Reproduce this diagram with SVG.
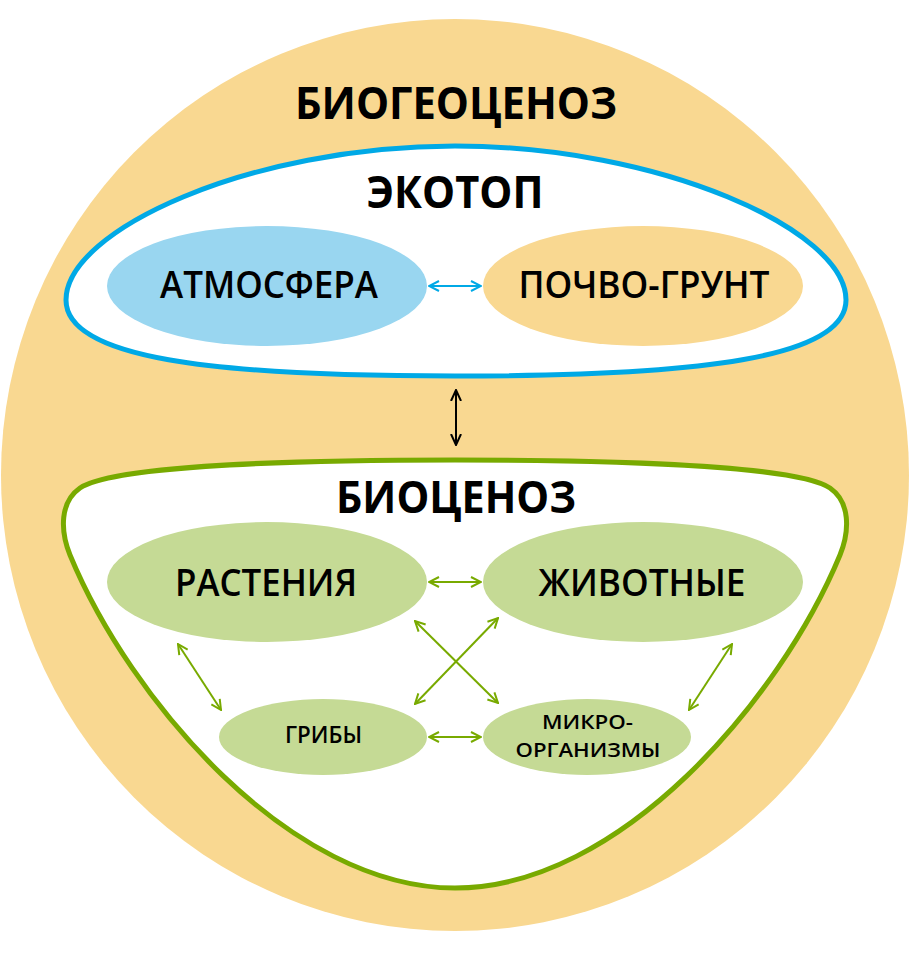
<svg xmlns="http://www.w3.org/2000/svg" width="910" height="975" viewBox="0 0 910 975">
<defs>
<style>
.t{font-family:"Open Sans","Noto Sans","Liberation Sans",sans-serif;fill:#000;text-anchor:middle}
.h{font-size:45px;font-weight:700}
.m{font-size:38px;font-weight:600}
.s{font-size:23px;font-weight:600}
.s2{font-size:20px;font-weight:600}
.ab{stroke:#00A9E6;stroke-width:2;fill:none}
.ak{stroke:#000;stroke-width:2;fill:none}
.ag{stroke:#78AA00;stroke-width:2;fill:none}
</style>
<marker id="mb" viewBox="0 0 12 12" refX="11" refY="6" markerWidth="12" markerHeight="12" markerUnits="userSpaceOnUse" orient="auto-start-reverse"><path d="M1,1 L11,6 L1,11" fill="none" stroke="#00A9E6" stroke-width="2"/></marker>
<marker id="mk" viewBox="0 0 12 14" refX="11" refY="7" markerWidth="12" markerHeight="14" markerUnits="userSpaceOnUse" orient="auto-start-reverse"><path d="M0,2 L11,7 L0,12" fill="none" stroke="#000" stroke-width="2"/></marker>
<marker id="mg" viewBox="0 0 12 12" refX="11" refY="6" markerWidth="12" markerHeight="12" markerUnits="userSpaceOnUse" orient="auto-start-reverse"><path d="M1,1 L11,6 L1,11" fill="none" stroke="#78AA00" stroke-width="2"/></marker>
</defs>
<g id="biogeocenosis">
<ellipse cx="455" cy="475" rx="454" ry="456" fill="#F9D891"/>
<text class="t h" x="456" y="119" textLength="322" lengthAdjust="spacingAndGlyphs">БИОГЕОЦЕНОЗ</text>
</g>
<g id="ecotope">
<path d="M455,146 C660,146 846,230 846,300 C846,358 700,376 455,376 C210,376 66,358 66,300 C66,230 250,146 455,146 Z" fill="#fff" stroke="#00A9E6" stroke-width="5"/>
<text class="t h" x="455" y="208" textLength="177" lengthAdjust="spacingAndGlyphs">ЭКОТОП</text>
</g>
<g id="atmosphere">
<ellipse cx="267" cy="286" rx="160" ry="60" fill="#99D6F0"/>
<text class="t m" x="269" y="298" textLength="218" lengthAdjust="spacingAndGlyphs">АТМОСФЕРА</text>
</g>
<g id="soil">
<ellipse cx="643" cy="286" rx="160" ry="60" fill="#F9D891"/>
<text class="t m" x="644" y="298" textLength="251" lengthAdjust="spacingAndGlyphs">ПОЧВО-ГРУНТ</text>
</g>
<g id="biocenosis">
<path d="M455,460 C650,460 800,468 830,488 C850,502 850,530 840,555 C780,700 620,888 455,888 C290,888 130,700 70,555 C60,530 60,502 80,488 C110,468 260,460 455,460 Z" fill="#fff" stroke="#78AA00" stroke-width="5"/>
<text class="t h" x="456" y="513" textLength="240" lengthAdjust="spacingAndGlyphs">БИОЦЕНОЗ</text>
</g>
<g id="plants">
<ellipse cx="267" cy="582" rx="160" ry="60" fill="#C5DA95"/>
<text class="t m" x="266" y="596" textLength="182" lengthAdjust="spacingAndGlyphs">РАСТЕНИЯ</text>
</g>
<g id="animals">
<ellipse cx="643" cy="582" rx="160" ry="60" fill="#C5DA95"/>
<text class="t m" x="642" y="596" textLength="207" lengthAdjust="spacingAndGlyphs">ЖИВОТНЫЕ</text>
</g>
<g id="fungi">
<ellipse cx="323" cy="737" rx="104" ry="38" fill="#C5DA95"/>
<text class="t s" x="323.5" y="743" textLength="77" lengthAdjust="spacingAndGlyphs">ГРИБЫ</text>
</g>
<g id="microorganisms">
<ellipse cx="587" cy="737" rx="104" ry="38" fill="#C5DA95"/>
<text class="t s2" x="587.5" y="729" textLength="91" lengthAdjust="spacingAndGlyphs">МИКРО-</text>
<text class="t s2" x="588" y="757" textLength="145" lengthAdjust="spacingAndGlyphs">ОРГАНИЗМЫ</text>
</g>
<g id="connectors">
<line class="ab" x1="429" y1="286" x2="481" y2="286" marker-start="url(#mb)" marker-end="url(#mb)"/>
<line class="ak" x1="456" y1="390" x2="456" y2="445" marker-start="url(#mk)" marker-end="url(#mk)"/>
<line class="ag" x1="429" y1="582" x2="481" y2="582" marker-start="url(#mg)" marker-end="url(#mg)"/>
<line class="ag" x1="429" y1="737" x2="481" y2="737" marker-start="url(#mg)" marker-end="url(#mg)"/>
<line class="ag" x1="415" y1="621" x2="498" y2="703" marker-start="url(#mg)" marker-end="url(#mg)"/>
<line class="ag" x1="498" y1="618" x2="415" y2="704" marker-start="url(#mg)" marker-end="url(#mg)"/>
<line class="ag" x1="178" y1="644" x2="221" y2="710" marker-start="url(#mg)" marker-end="url(#mg)"/>
<line class="ag" x1="732" y1="644" x2="689" y2="710" marker-start="url(#mg)" marker-end="url(#mg)"/>
</g>
</svg>
